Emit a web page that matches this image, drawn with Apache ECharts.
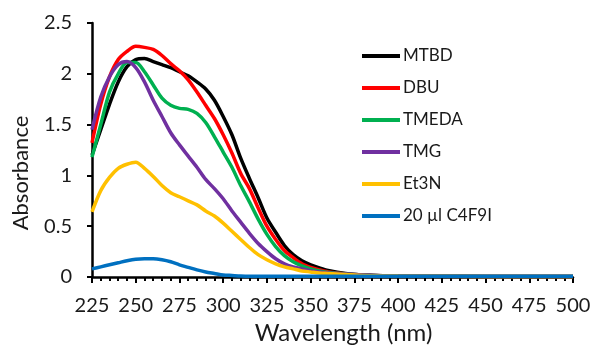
<!DOCTYPE html>
<html>
<head>
<meta charset="utf-8">
<script src="https://cdn.jsdelivr.net/npm/echarts@6/dist/echarts.min.js"></script>
<style>
  html, body { margin: 0; padding: 0; background: #fff; }
  #chart { width: 592px; height: 345px; }
</style>
</head>
<body>
<div id="chart"></div>
<script>
const wavelengths = [225, 230, 235, 240, 245, 250, 255, 260, 265, 270, 275, 280, 285, 290, 295, 300,
  305, 310, 315, 320, 325, 330, 335, 340, 345, 350, 355, 360, 370, 380, 400, 450, 500];

const mtbd = [1.2, 1.45, 1.7, 1.92, 2.07, 2.14, 2.15, 2.12, 2.09, 2.06, 2.02, 1.98, 1.92, 1.85, 1.74, 1.58,
  1.4, 1.17, 0.97, 0.78, 0.58, 0.44, 0.31, 0.22, 0.16, 0.12, 0.09, 0.065, 0.035, 0.02, 0.01, 0.006, 0.005];
const dbu = [1.32, 1.7, 1.97, 2.14, 2.22, 2.27, 2.26, 2.24, 2.18, 2.1, 2.03, 1.94, 1.82, 1.69, 1.56, 1.4,
  1.22, 1.02, 0.87, 0.68, 0.5, 0.37, 0.26, 0.19, 0.13, 0.095, 0.07, 0.05, 0.03, 0.02, 0.01, 0.006, 0.005];
const tmeda = [1.18, 1.5, 1.82, 2.0, 2.11, 2.11, 2.02, 1.89, 1.76, 1.69, 1.66, 1.65, 1.61, 1.52, 1.38, 1.23,
  1.08, 0.9, 0.74, 0.57, 0.42, 0.3, 0.21, 0.15, 0.11, 0.08, 0.06, 0.045, 0.03, 0.02, 0.01, 0.006, 0.005];
const tmg = [1.45, 1.77, 1.97, 2.09, 2.12, 2.06, 1.92, 1.74, 1.58, 1.42, 1.3, 1.19, 1.08, 0.96, 0.87, 0.77,
  0.65, 0.54, 0.43, 0.33, 0.25, 0.18, 0.13, 0.1, 0.08, 0.06, 0.05, 0.04, 0.03, 0.02, 0.01, 0.006, 0.005];
const et3n = [0.64, 0.85, 0.98, 1.07, 1.11, 1.13, 1.07, 0.99, 0.9, 0.83, 0.79, 0.75, 0.71, 0.65, 0.6, 0.53,
  0.45, 0.37, 0.29, 0.22, 0.17, 0.13, 0.1, 0.08, 0.06, 0.05, 0.04, 0.035, 0.025, 0.015, 0.01, 0.006, 0.005];
const c4f9i = [0.08, 0.1, 0.12, 0.14, 0.16, 0.175, 0.18, 0.18, 0.17, 0.15, 0.12, 0.095, 0.07, 0.05, 0.035, 0.02,
  0.015, 0.01, 0.008, 0.008, 0.008, 0.008, 0.008, 0.008, 0.008, 0.008, 0.008, 0.008, 0.008, 0.008, 0.008, 0.008, 0.008];

const seriesNames = ["MTBD", "DBU", "TMEDA", "TMG", "Et3N", "20 µl C4F9I"];
const seriesValues = [mtbd, dbu, tmeda, tmg, et3n, c4f9i];
const seriesColors = ["#000000", "#ff0000", "#00b050", "#7030a0", "#ffc000", "#0070c0"];

const FONT = "Lato, 'Open Sans', sans-serif";
const TEXT = "#1a1a1a";

const chart = echarts.init(document.getElementById("chart"), undefined, { renderer: "canvas" });

chart.setOption({
  animation: false,
  textStyle: { fontFamily: FONT },
  grid: { left: 92, right: 19, top: 23, bottom: 68, containLabel: false, outerBoundsMode: "none" },
  legend: {
    orient: "vertical",
    left: 357,
    top: 42,
    itemWidth: 38,
    itemHeight: 4,
    itemGap: 14,
    icon: "rect",
    textStyle: { fontFamily: FONT, fontSize: 17, color: TEXT, lineHeight: 18, padding: [0, 0, 0, -2] },
    data: seriesNames,
  },
  xAxis: {
    type: "value",
    min: 225,
    max: 500,
    interval: 25,
    name: "Wavelength (nm)",
    nameLocation: "middle",
    nameGap: 44,
    nameTextStyle: { fontFamily: FONT, fontSize: 24, color: TEXT, padding: [0, 0, 0, 22] },
    axisLine: { onZero: false, lineStyle: { color: "#000", width: 2.5 } },
    axisTick: { show: true, length: 6, lineStyle: { color: "#000", width: 2 } },
    minorTick: { show: true, splitNumber: 5, length: 4, lineStyle: { color: "#000", width: 2 } },
    axisLabel: { fontFamily: FONT, fontSize: 20, color: TEXT, margin: 19 },
    splitLine: { show: false },
  },
  yAxis: {
    type: "value",
    min: 0,
    max: 2.5,
    interval: 0.5,
    name: "Absorbance",
    nameLocation: "middle",
    nameGap: 60,
    nameRotate: 90,
    nameTextStyle: { fontFamily: FONT, fontSize: 22, color: TEXT, padding: [0, 46, 0, 0] },
    axisLine: { show: true, lineStyle: { color: "#000", width: 2.5 } },
    axisTick: { show: true, length: 5, lineStyle: { color: "#000", width: 2 } },
    axisLabel: { fontFamily: FONT, fontSize: 20, color: TEXT, margin: 20 },
    splitLine: { show: false },
  },
  series: seriesNames.map((name, i) => ({
    name,
    type: "line",
    smooth: 0.3,
    symbol: "none",
    data: wavelengths.map((w, j) => [w, seriesValues[i][j]]),
    lineStyle: { color: seriesColors[i], width: 3.5 },
    itemStyle: { color: seriesColors[i] },
  })),
});
</script>
</body>
</html>
